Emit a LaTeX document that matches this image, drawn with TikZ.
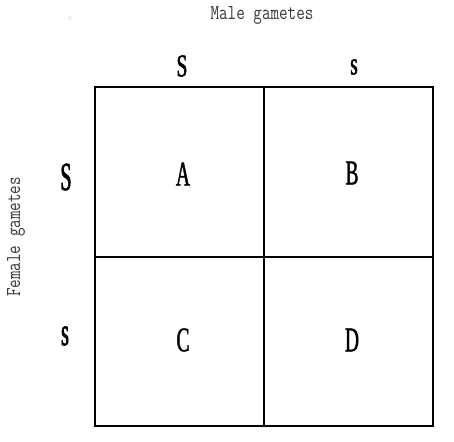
\documentclass[tikz,border=0pt]{standalone}
\usepackage{fontspec}
\usepackage{tikz}
\newfontfamily\gameteserif[FakeStretch=0.56,FakeBold=1.2]{Liberation Serif}
\newfontfamily\allelesans[FakeStretch=0.6,FakeBold=1.6]{Liberation Serif}
\newfontfamily\sideallele[FakeStretch=0.5,FakeBold=1.6]{Liberation Serif}
\newfontfamily\gametemono[FakeStretch=0.78]{Latin Modern Mono}
\definecolor{labelgray}{HTML}{3A3A3A}
\definecolor{faintgray}{HTML}{DADADA}

\begin{document}
\begin{tikzpicture}[x=0.75pt,y=-0.75pt,
  gridline/.style={line width=1.5pt},
  cellletter/.style={font=\gameteserif\fontsize{26}{26}\selectfont},
  topallele/.style={font=\allelesans\fontsize{24}{24}\selectfont},
  leftallele/.style={font=\sideallele\fontsize{30}{30}\selectfont},
  axislabel/.style={font=\gametemono\fontsize{16}{16}\selectfont,text=labelgray}]
\useasboundingbox (0,0) rectangle (454,442);
% Punnett square
\draw[gridline] (95,87) rectangle (433,426);
\draw[gridline] (264,87) -- (264,426);
\draw[gridline] (95,257) -- (433,257);
\node[cellletter] (A) at (183,174) {A};
\node[cellletter] (B) at (352,173) {B};
\node[cellletter] (C) at (183,340) {C};
\node[cellletter] (D) at (352,340) {D};
% gametes
\node[topallele] (maleS) at (182,66) {S};
\node[topallele] (males) at (354,67) {s};
\node[leftallele] (femaleS) at (66,177) {S};
\node[leftallele] (females) at (65,336) {s};
\node[axislabel] (male) at (262,15) {Male gametes};
\node[axislabel,rotate=90] (female) at (16,237) {Female gametes};
\node[font=\fontsize{7}{7}\selectfont,text=faintgray] (stray) at (70,18) {s};
\end{tikzpicture}
\end{document}
